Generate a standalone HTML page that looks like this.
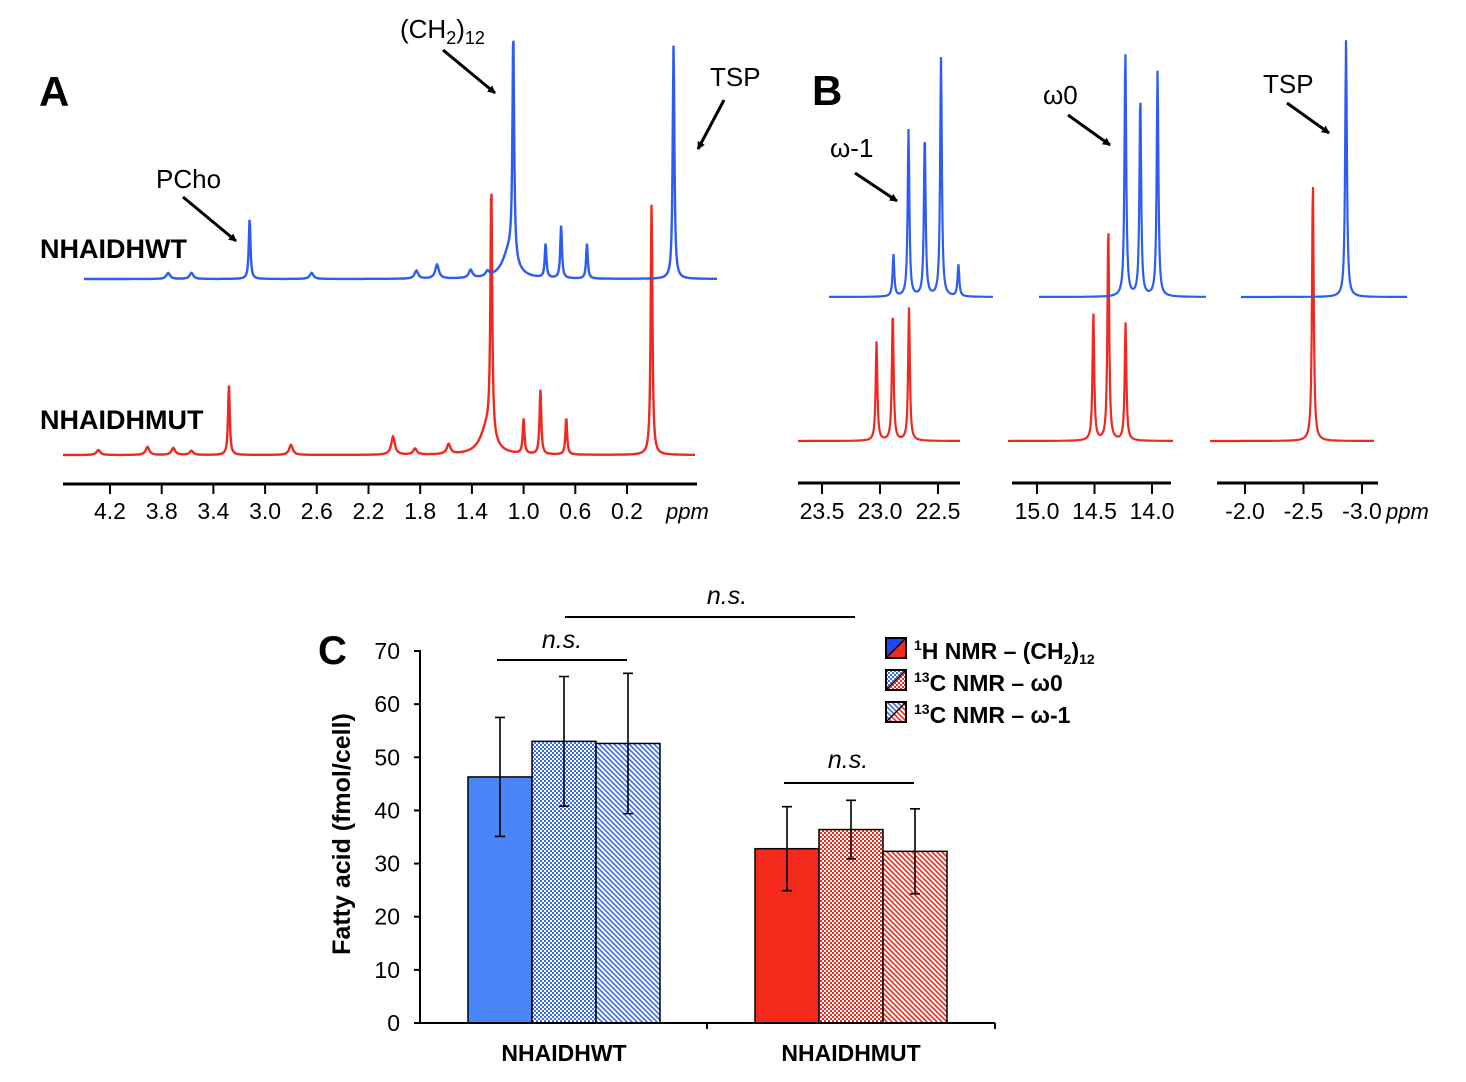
<!DOCTYPE html>
<html><head><meta charset="utf-8"><style>
html,body{margin:0;padding:0;background:#fff;}
svg{display:block;font-family:"Liberation Sans",Arial,sans-serif;}
</style></head><body>
<svg id="fig" width="1466" height="1082" viewBox="0 0 1466 1082" xmlns="http://www.w3.org/2000/svg">
<defs>
<marker id="ah" markerWidth="8" markerHeight="8" refX="7" refY="4" orient="auto" markerUnits="userSpaceOnUse"><path d="M0,0 L8,4 L0,8 z" fill="#000"/></marker>
<pattern id="chkB" width="4" height="4" patternUnits="userSpaceOnUse"><rect width="4" height="4" fill="#fff"/><rect width="2" height="2" fill="#3b6cf0"/><rect x="2" y="2" width="2" height="2" fill="#3b6cf0"/></pattern>
<pattern id="chkR" width="4" height="4" patternUnits="userSpaceOnUse"><rect width="4" height="4" fill="#fff"/><rect width="2" height="2" fill="#ee2a1c"/><rect x="2" y="2" width="2" height="2" fill="#ee2a1c"/></pattern>
<pattern id="dgB" width="5" height="5" patternUnits="userSpaceOnUse"><rect width="5" height="5" fill="#fff"/><path d="M-1,-1 L6,6 M-1,4 L1,6 M4,-1 L6,1" stroke="#3b6cf0" stroke-width="1.6"/></pattern>
<pattern id="dgR" width="5" height="5" patternUnits="userSpaceOnUse"><rect width="5" height="5" fill="#fff"/><path d="M-1,-1 L6,6 M-1,4 L1,6 M4,-1 L6,1" stroke="#ee2a1c" stroke-width="1.6"/></pattern>
</defs>
<g id="A"></g>
<g id="B"></g>
<g id="C"></g>
</svg>
<script>
// ---------- Panel A data (1H spectrum) ----------
const aTicks = [4.2, 3.8, 3.4, 3.0, 2.6, 2.2, 1.8, 1.4, 1.0, 0.6, 0.2];
const aRedPpm = [3.28, 1.25, 1.0, 0.87, 0.67, 0.01, 2.01, 2.80, 1.58, 3.91, 3.71, 1.84, 4.29, 3.57];
const aRedH   = [70, 250, 35, 65, 37, 251, 18, 10, 10, 8, 7, 6, 5, 4];
const aBluePpm = [3.29, 1.25, 1.0, 0.88, 0.68, 0.01, 2.0, 2.81, 1.58, 3.92, 3.74, 1.84, 1.45];
const aBlueH   = [60, 226, 34, 53, 35, 234, 8, 6, 8, 6, 6, 14, 5];
// ---------- Panel B data (13C spectrum) ----------
const bSegments = [
  {ticks:[23.5,23.0,22.5]},
  {ticks:[15.0,14.5,14.0]},
  {ticks:[-2.0,-2.5,-3.0]}
];
const bRedPpm = [23.03, 22.89, 22.75, 14.51, 14.38, 14.23, -2.58];
const bRedH   = [99, 129, 133, 129, 215, 118, 259];
const bBluePpm = [23.16, 23.03, 22.89, 22.75, 22.60, 14.51, 14.38, 14.23, -2.59];
const bBlueH   = [42, 167, 162, 239, 32, 247, 200, 226, 257];
// ---------- Panel C data (bar chart) ----------
const cCategories = ["NHAIDHWT", "NHAIDHMUT"];
const cSeries = ["1H NMR – (CH2)12", "13C NMR – ω0", "13C NMR – ω-1"];
const cWT = [46.3, 53.0, 52.6];
const cWTErr = [11.2, 12.2, 13.2];
const cMUT = [32.8, 36.4, 32.3];
const cMUTErr = [7.9, 5.5, 8.0];
const cTicks = [0, 10, 20, 30, 40, 50, 60, 70];

const NS = "http://www.w3.org/2000/svg";
function mk(parent, tag, attrs, text) {
  const e = document.createElementNS(NS, tag);
  for (const k in attrs) e.setAttribute(k, attrs[k]);
  if (text !== undefined) e.textContent = text;
  parent.appendChild(e);
  return e;
}
function spectrum(x0, x1, base, xs, hs, broad) {
  let d = "";
  for (let x = x0; x <= x1; x += 0.5) {
    let y = 0;
    for (let i = 0; i < xs.length; i++) {
      const w = hs[i] > 20 ? 1.0 : 2.2;
      y += hs[i] / (1 + Math.pow((x - xs[i]) / w, 2));
    }
    if (broad) for (const b of broad) y += b.h / (1 + Math.pow((x - b.x) / b.w, 2));
    d += (d ? " L" : "M") + x.toFixed(1) + "," + (base - y).toFixed(1);
  }
  return d;
}
function arrow(g, x1, y1, x2, y2, name) {
  const l = mk(g, "line", {x1, y1, x2, y2, stroke: "#000", "stroke-width": 3, "marker-end": "url(#ah)"});
  
  
}
function label(g, x, y, txt, size, name, extra) {
  const t = mk(g, "text", Object.assign({x, y, "font-size": size}, extra || {}), txt);
  
  
  return t;
}

// ---------- Panel A ----------
(function () {
  const g = document.getElementById("A");
  const xA = p => 110 + (4.2 - p) * 129.25;
  const redX = aRedPpm.map(xA);
  const blueX = aBluePpm.map(p => xA(p) + 22);
  const red = mk(g, "path", {d: spectrum(63, 695, 455, redX, aRedH, [{x: xA(1.25) - 4, h: 28, w: 8}]), fill: "none", stroke: "#f0281e", "stroke-width": 2.4});
  
  
  const blue = mk(g, "path", {d: spectrum(84, 717, 279, blueX, aBlueH, [{x: xA(1.25) + 18, h: 28, w: 8}]), fill: "none", stroke: "#2c5cf2", "stroke-width": 2.4});
  
  
  const ax = mk(g, "line", {x1: 63, y1: 484, x2: 697, y2: 484, stroke: "#000", "stroke-width": 3});
  
  
  aTicks.forEach(t => {
    const x = xA(t);
    const tk = mk(g, "line", {x1: x, y1: 484, x2: x, y2: 494, stroke: "#000", "stroke-width": 2});
    
    
    label(g, x, 519, t.toFixed(1), 23, 'tick-label-a', {"text-anchor": "middle"});
  });
  label(g, 666, 519, "ppm", 22, 'ppm-unit-a', {"font-style": "italic"});
  label(g, 39, 106, "A", 42, 'panel-label-a', {"font-weight": "bold"});
  label(g, 40, 258, "NHAIDHWT", 27, 'wildtype-label', {"font-weight": "bold"});
  label(g, 40, 429, "NHAIDHMUT", 27, 'mutant-label', {"font-weight": "bold"});
  label(g, 156, 188, "PCho", 26, 'pcho-label');
  arrow(g, 183, 197, 236, 241, 'pcho-arrow');
  const t = label(g, 400, 38, "(CH", 26, 'ch2-label');
  mk(t, "tspan", {"font-size": 18, dy: 6}, "2");
  mk(t, "tspan", {dy: -6}, ")");
  mk(t, "tspan", {"font-size": 18, dy: 6}, "12");
  arrow(g, 443, 50, 495, 93, 'ch2-arrow');
  label(g, 710, 86, "TSP", 26, 'tsp-label-a');
  arrow(g, 724, 100, 698, 149, 'tsp-arrow-a');
})();

// ---------- Panel B ----------
(function () {
  const g = document.getElementById("B");
  const segX = [[798, 960], [1008, 1173], [1210, 1374]];
  const axX = [[798, 960], [1012, 1171], [1217, 1378]];
  const tickRef = [[822, 23.5, 116], [1037, 15.0, 115], [1245, -2.0, 117]];
  function segOf(p) { return p > 20 ? 0 : (p > 5 ? 1 : 2); }
  const xB = p => { const r = tickRef[segOf(p)]; return r[0] + (r[1] - p) * r[2]; };
  bSegments.forEach((s, i) => {
    const rx = [], rh = [], bx = [], bh = [];
    bRedPpm.forEach((p, j) => { if (segOf(p) === i) { rx.push(xB(p)); rh.push(bRedH[j]); } });
    bBluePpm.forEach((p, j) => { if (segOf(p) === i) { bx.push(xB(p) + 32); bh.push(bBlueH[j]); } });
    const r = mk(g, "path", {d: spectrum(segX[i][0], segX[i][1], 441, rx, rh), fill: "none", stroke: "#f0281e", "stroke-width": 2.2});
    
    
    const b = mk(g, "path", {d: spectrum(segX[i][0] + 31, segX[i][1] + 33, 297, bx, bh), fill: "none", stroke: "#2c5cf2", "stroke-width": 2.2});
    
    
    const ax = mk(g, "line", {x1: axX[i][0], y1: 483, x2: axX[i][1], y2: 483, stroke: "#000", "stroke-width": 3});
    
    
    s.ticks.forEach(t => {
      const x = xB(t);
      const tk = mk(g, "line", {x1: x, y1: 483, x2: x, y2: 494, stroke: "#000", "stroke-width": 2});
      
      
      label(g, x, 519, t.toFixed(1), 23, 'tick-label-b', {"text-anchor": "middle"});
    });
  });
  label(g, 1386, 519, "ppm", 22, 'ppm-unit-b', {"font-style": "italic"});
  label(g, 812, 105, "B", 42, 'panel-label-b', {"font-weight": "bold"});
  label(g, 830, 157, "ω-1", 26, 'omega-1-label');
  arrow(g, 855, 173, 897, 201, 'omega-1-arrow');
  label(g, 1043, 104, "ω0", 26, 'omega-0-label');
  arrow(g, 1068, 115, 1110, 145, 'omega-0-arrow');
  label(g, 1263, 93, "TSP", 26, 'tsp-label-b');
  arrow(g, 1287, 103, 1329, 133, 'tsp-arrow-b');
})();

// ---------- Panel C ----------
(function () {
  const g = document.getElementById("C");
  const y = v => 1023 - v * (372 / 70);
  const groupStart = [468, 755];
  const bw = 64;
  const fills = [["#4a86f8", "url(#chkB)", "url(#dgB)"], ["#f5291b", "url(#chkR)", "url(#dgR)"]];
  const names = ['ch2', 'omega0', 'omega-1'];
  [cWT, cMUT].forEach((vals, gi) => {
    const errs = gi === 0 ? cWTErr : cMUTErr;
    vals.forEach((v, i) => {
      const x = groupStart[gi] + i * bw;
      const r = mk(g, "rect", {x, y: y(v), width: bw, height: y(0) - y(v), fill: fills[gi][i], stroke: "#000", "stroke-width": 1.5});
      
      
      const cx = x + bw / 2;
      const e = mk(g, "path", {d: `M${cx},${y(v + errs[i])} V${y(v - errs[i])} M${cx - 5},${y(v + errs[i])} H${cx + 5} M${cx - 5},${y(v - errs[i])} H${cx + 5}`, stroke: "#000", "stroke-width": 1.6, fill: "none"});
      
      
    });
  });
  const ya = mk(g, "line", {x1: 420, y1: 650, x2: 420, y2: 1024, stroke: "#000", "stroke-width": 2});
  
  
  const xa = mk(g, "path", {d: "M419,1023 H995 M707,1023 V1029 M995,1023 V1029", stroke: "#000", "stroke-width": 2, fill: "none"});
  
  
  cTicks.forEach(t => {
    const tk = mk(g, "line", {x1: 414, y1: y(t), x2: 420, y2: y(t), stroke: "#000", "stroke-width": 2});
    
    
    label(g, 400, y(t) + 8, String(t), 23, 'y-tick-label', {"text-anchor": "end"});
  });
  cCategories.forEach((c, i) => {
    label(g, groupStart[i] + 96, 1061, c, 23, 'x-category-label', {"text-anchor": "middle", "font-weight": "bold"});
  });
  label(g, 0, 0, "Fatty acid (fmol/cell)", 25, 'y-axis-title', {"font-weight": "bold", "text-anchor": "middle", transform: "translate(350,834) rotate(-90)"});
  label(g, 318, 664, "C", 40, 'panel-label-c', {"font-weight": "bold"});
  const sig = [[565, 855, 617, 727, 604], [497, 627, 660, 562, 648], [784, 914, 783, 848, 768]];
  sig.forEach(s => {
    const l = mk(g, "line", {x1: s[0], y1: s[2], x2: s[1], y2: s[2], stroke: "#000", "stroke-width": 2});
    
    
    label(g, s[3], s[4], "n.s.", 25, 'significance-label', {"font-style": "italic", "text-anchor": "middle"});
  });
  // legend
  const ly = [638, 670, 702];
  const legFills = [["#1d48f0", "#f5291b"], ["url(#chkB)", "url(#chkR)"], ["url(#dgB)", "url(#dgR)"]];
  cSeries.forEach((s, i) => {
    const lg = mk(g, "g", {});
    
    
    mk(lg, "path", {d: `M886,${ly[i]} H906 L886,${ly[i] + 20} Z`, fill: legFills[i][0]});
    mk(lg, "path", {d: `M906,${ly[i]} V${ly[i] + 20} H886 Z`, fill: legFills[i][1]});
    mk(lg, "rect", {x: 886, y: ly[i], width: 20, height: 20, fill: "none", stroke: "#000", "stroke-width": 2});
    mk(lg, "line", {x1: 906, y1: ly[i], x2: 886, y2: ly[i] + 20, stroke: "#000", "stroke-width": 1.5});
    const t = mk(lg, "text", {x: 914, y: ly[i] + 21, "font-size": 23, "font-weight": "bold"});
    if (i === 0) {
      mk(t, "tspan", {"font-size": 14, dy: -9}, "1");
      mk(t, "tspan", {dy: 9}, "H NMR – (CH");
      mk(t, "tspan", {"font-size": 14, dy: 5}, "2");
      mk(t, "tspan", {dy: -5}, ")");
      mk(t, "tspan", {"font-size": 14, dy: 5}, "12");
    } else {
      mk(t, "tspan", {"font-size": 14, dy: -9}, "13");
      mk(t, "tspan", {dy: 9}, i === 1 ? "C NMR – ω0" : "C NMR – ω-1");
    }
  });
})();
</script>
</body></html>
